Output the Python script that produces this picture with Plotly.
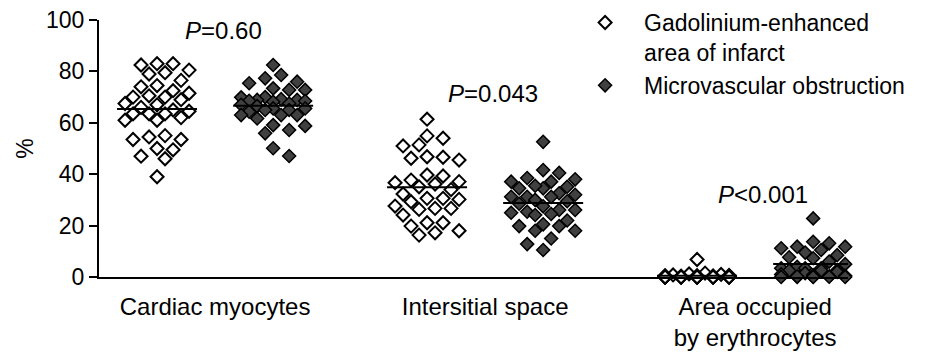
import numpy as np
import plotly.graph_objects as go

# ---------------- data ----------------
categories = ["Cardiac myocytes", "Intersitial space", "Area occupied<br>by erythrocytes"]
series_names = ["Gadolinium-enhanced<br>area of infarct", "Microvascular obstruction"]

gad_cardiac = [83, 82.5, 83, 79, 79.5, 80.5, 76.5, 74.5, 74, 72.5, 71.5, 70.5, 70, 70, 69,
               67, 67.5, 66, 63.5, 65, 64.5, 63.5, 63.5, 61, 61, 62, 55, 53.5, 53.5, 54.5,
               50, 49.5, 47, 46, 39]
mvo_cardiac = [82.5, 77.3, 78.6, 76, 75.4, 73.4, 72.8, 72.8, 70, 69.9, 69.2, 68.9, 68.9, 68.6,
               68.5, 68.2, 67.5, 67, 66.5, 65.6, 65.6, 65, 65, 64.3, 63, 63, 63, 61.7, 59.1,
               58.8, 57.2, 55.9, 50.1, 47.1]
gad_interstitial = [61.4, 54.9, 54, 51, 51.4, 46.6, 45.5, 46.2, 46.8, 39.7, 39.3, 37.7, 36.7,
                    36.2, 37.1, 35.1, 34, 30.6, 30.2, 30.6, 32.3, 29.3, 26.7, 26.3, 26.7, 27.6,
                    24.1, 21.1, 21.1, 19.8, 18, 16.3, 17.2]
mvo_interstitial = [52.6, 41.6, 40.5, 38, 37.1, 37.1, 38.5, 35.1, 34.5, 34.5, 35.5, 32.6, 31.2,
                    31.2, 31.2, 32, 30, 29.5, 28.5, 27.5, 26.1, 25.4, 24.1, 26.1, 24.5, 25, 22,
                    19.8, 18, 18, 19.8, 20.5, 12.8, 10.5, 15]
gad_erythro = [6.8, 1.5, 1.2, 1.0, 0.8, 0.6, 0.5, 0.5, 0.4, 0.3, 0.3, 0.2, 0.2, 0.1, 0.1, 0.1,
               0, 0, 0, 0, 0, 0, 0, 0, 0, 0, 0, 0, 0, 0, 0, 0, 0]
mvo_erythro = [22.8, 13.7, 13.1, 11.8, 11.8, 11.2, 10.5, 9.5, 8.5, 7.7, 7.3, 6, 5, 4, 3.4, 3.4,
               3.4, 2.6, 2.5, 2.5, 2, 1.5, 1, 0.8, 0.5, 0.3, 0.1, 0.1, 0, 0, 0, 0, 0.2]

gad_values = [gad_cardiac, gad_interstitial, gad_erythro]
mvo_values = [mvo_cardiac, mvo_interstitial, mvo_erythro]
p_labels = ["<i>P</i>=0.60", "<i>P</i>=0.043", "<i>P</i>&lt;0.001"]
p_label_y = [96, 71.5, 32]
y_ticks = [0, 20, 40, 60, 80, 100]

# ---------------- layout constants ----------------
W, H = 925, 356
ML, MR, MT, MB = 99, 77, 20, 79
XR = [-0.43, 2.344]
YR = [0, 100]
PXX = (W - ML - MR) / (XR[1] - XR[0])   # pixels per x unit
PXY = (H - MT - MB) / (YR[1] - YR[0])   # pixels per y unit
GROUP_OFF = 0.215
FONT = "Liberation Sans, Arial, Helvetica, sans-serif"


def swarm(values, step=8.0, dmin=16.0, cap=32.0):
    """Prism-like beeswarm: returns x offsets (data units)."""
    vals = np.asarray(values, dtype=float)
    order = np.argsort(-vals, kind="stable")
    cands = [0.0]
    k = 1
    while k * step <= cap + 1e-9:
        cands += [k * step, -k * step]
        k += 1
    placed = []
    offs = np.zeros(len(vals))
    for i in order:
        y = vals[i] * PXY
        best, bestpen = None, None
        for c in cands:
            pen = sum(max(0.0, dmin - (abs(c - px) + abs(y - py))) for px, py in placed)
            if pen == 0:
                best = c
                break
            if bestpen is None or pen < bestpen - 1e-9:
                best, bestpen = c, pen
        placed.append((best, y))
        offs[i] = best / PXX
    return offs


fig = go.Figure()

styles = [
    dict(color="white", line=dict(color="black", width=2)),
    dict(color="#404040", line=dict(color="black", width=1.5)),
]

for s, (name, groups, sign) in enumerate([(series_names[0], gad_values, -1),
                                         (series_names[1], mvo_values, +1)]):
    xs, ys = [], []
    for ci, vals in enumerate(groups):
        center = ci + sign * GROUP_OFF
        offs = swarm(vals)
        xs += list(center + offs)
        ys += list(vals)
    fig.add_trace(go.Scatter(
        x=xs, y=ys, mode="markers", name=name, cliponaxis=False,
        marker=dict(symbol="diamond", size=10, **styles[s]),
        hoverinfo="skip",
    ))
    # mean lines
    hw = 40 / PXX
    for ci, vals in enumerate(groups):
        center = ci + sign * GROUP_OFF
        m = float(np.mean(vals))
        fig.add_trace(go.Scatter(
            x=[center - hw, center + hw], y=[m, m], mode="lines",
            line=dict(color="black", width=2), showlegend=False,
            cliponaxis=False, hoverinfo="skip",
        ))

annotations = []
for ci, (lab, py) in enumerate(zip(p_labels, p_label_y)):
    annotations.append(dict(x=ci + 0.03, y=py, xref="x", yref="y", text=lab,
                            showarrow=False, font=dict(size=24, color="black", family=FONT)))

fig.update_layout(
    width=W, height=H,
    margin=dict(l=ML, r=MR, t=MT, b=MB, autoexpand=False),
    paper_bgcolor="white", plot_bgcolor="white",
    font=dict(family=FONT, size=22, color="black"),
    showlegend=True,
    legend=dict(xref="container", yref="container", x=0.612, y=0.997,
                xanchor="left", yanchor="top", valign="top",
                font=dict(size=23, family=FONT, color="black"),
                itemwidth=68, bgcolor="rgba(0,0,0,0)", tracegroupgap=0),
    annotations=annotations,
    xaxis=dict(range=XR, showgrid=False, zeroline=False, showline=True,
               linecolor="black", linewidth=2, ticks="", automargin=False,
               tickmode="array", tickvals=list(range(len(categories))),
               ticktext=categories, ticklabelstandoff=7,
               tickfont=dict(size=24, family=FONT, color="black")),
    yaxis=dict(range=YR, showgrid=False, zeroline=False, showline=True,
               linecolor="black", linewidth=2, ticks="outside", ticklen=8,
               tickwidth=2, tickcolor="black", tickmode="array", tickvals=y_ticks,
               automargin=False,
               tickfont=dict(size=23, family=FONT, color="black"),
               title=dict(text="%", standoff=6, font=dict(size=23, family=FONT))),
)

fig.write_html("out.html")
